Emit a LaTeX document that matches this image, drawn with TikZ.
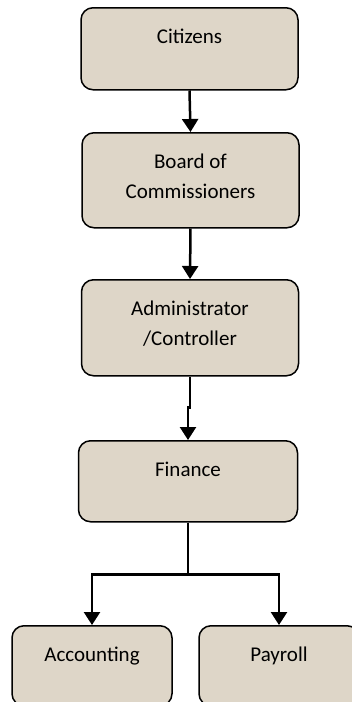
\documentclass[tikz,border=0pt]{standalone}
\usepackage{fontspec}
\setmainfont{Carlito}
\usetikzlibrary{arrows.meta,positioning,calc}
\definecolor{paper}{RGB}{222,214,200}

\begin{document}
\begin{tikzpicture}[
    x=1pt, y=-1pt,
    box/.style={rectangle, draw, line width=1.5pt, rounded corners=12pt, fill=paper,
        minimum width=217pt, inner sep=0pt, text height=36pt, align=center,
        font=\fontsize{21}{30}\selectfont, anchor=north},
    twoline/.style={text height=66pt},
    link/.style={line width=2.5pt, -{Triangle[width=16pt,length=13pt]}},
]
    \clip (0,0) rectangle (352,702);
    \node[box, text depth=46pt] (citizens) at (189.5,7) {Citizens};
    \node[box, twoline, text depth=29pt] (board) at (190.5,132) {Board of\\Commissioners};
    \node[box, twoline, text depth=30pt] (admin) at (190,279) {Administrator\\/Controller};
    \node[box, text depth=45pt, minimum width=219pt] (finance) at (188,440) {Finance};
    \node[box, text depth=44pt, minimum width=160pt] (accounting) at (92,625) {Accounting};
    \node[box, text depth=44pt, minimum width=160pt] (payroll) at (279,625) {Payroll};

    \draw[link] (citizens.south) -- (board.north);
    \draw[link] (board.south) -- (admin.north);
    \draw[link] (admin.south) -- ++(0,31) -| (finance.north);
    \draw[link] (finance.south) -- ++(0,52) -| (accounting.north);
    \draw[link] (finance.south) -- ++(0,52) -| (payroll.north);
\end{tikzpicture}
\end{document}
